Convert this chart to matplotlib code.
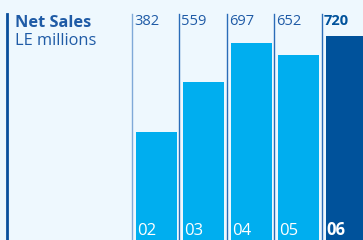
import matplotlib.pyplot as plt

# data
years = ['02', '03', '04', '05', '06']
sales = [382, 559, 697, 652, 720]
highlight = [False, False, False, False, True]

bg = '#eef8fe'
light = '#00aeef'
dark = '#00529b'
txt = '#1f5ba6'

plt.rcParams['font.family'] = ['Open Sans', 'DejaVu Sans']

fig = plt.figure(figsize=(3.63, 2.40), dpi=100)
fig.patch.set_facecolor(bg)
ax = fig.add_axes([0, 0, 1, 1])
ax.set_facecolor(bg)
ax.set_axis_off()

# x in pixel units, y in LE millions
ax.set_xlim(0, 363)
ax.set_ylim(0, 848)

step = 47.4
for i, (yr, v, hl) in enumerate(zip(years, sales, highlight)):
    line_x = 132 + i * step
    ax.axvline(line_x, ymin=0, ymax=0.942, color='#7fa9d8' if i == 0 else '#2a6cb8', lw=1.0)
    ax.bar(line_x + 4, v, width=41, align='edge', color=dark if hl else light)
    ax.text(line_x + 2, 798, str(v), ha='left', va='top', fontsize=10.5,
            color=dark if hl else txt, fontweight='bold' if hl else 'normal')
    ax.text(line_x + 5, 2, yr, ha='left', va='bottom', fontsize=12,
            color='white', fontweight='bold' if hl else 'normal')

# left accent bar
ax.axvline(7, ymin=0, ymax=0.942, color='#0a4f9c', lw=2)

ax.text(15, 795, 'Net Sales', ha='left', va='top', fontsize=11.8, fontweight='bold', color=txt)
ax.text(15, 730, 'LE millions', ha='left', va='top', fontsize=11.8, color=txt)

fig.savefig('out.png', dpi=100, facecolor=bg)
